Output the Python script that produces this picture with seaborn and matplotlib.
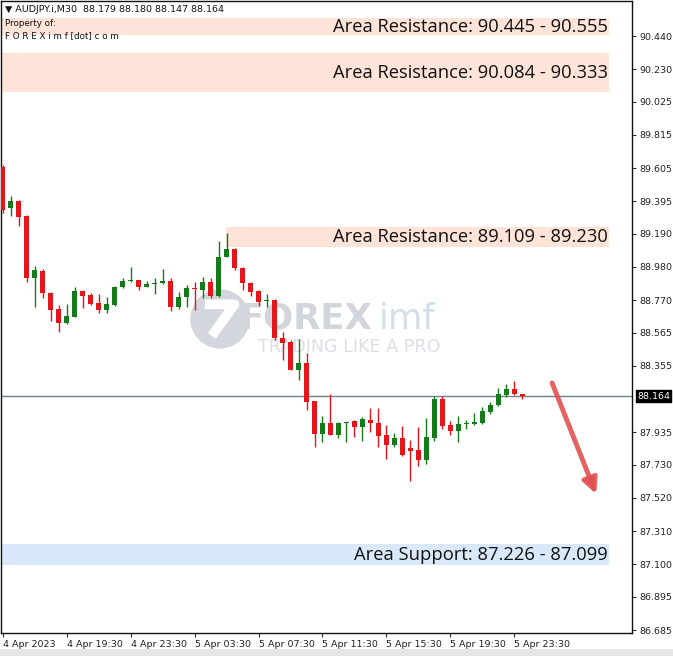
import numpy as np
import pandas as pd
import matplotlib
matplotlib.use('Agg')
import matplotlib.pyplot as plt
import matplotlib.patches as mpatches
import seaborn as sns

# AUDJPY M30 candles, 4 Apr 15:30 -> 6 Apr 00:00
times = pd.date_range('2023-04-04 15:30', periods=66, freq='30min')
opens = [89.614, 89.351, 89.397, 89.302, 88.913, 88.954, 88.817, 88.712, 88.624, 88.666,
         88.828, 88.803, 88.750, 88.708, 88.740, 88.851, 88.889, 88.897, 88.855, 88.872,
         88.877, 88.893, 88.729, 88.788, 88.849, 88.834, 88.887, 88.796, 89.045, 89.094,
         88.976, 88.881, 88.828, 88.763, 88.771, 88.533, 88.504, 88.329, 88.375, 88.133,
         87.924, 87.992, 87.918, 87.994, 88.006, 87.966, 88.013, 87.996, 87.918, 87.855,
         87.897, 87.834, 87.823, 87.760, 87.897, 88.146, 87.981, 87.943, 87.987, 87.986,
         87.992, 88.065, 88.107, 88.171, 88.209, 88.179]
highs = [89.625, 89.430, 89.403, 89.309, 88.985, 88.969, 88.822, 88.737, 88.744, 88.855,
         88.834, 88.813, 88.807, 88.792, 88.860, 88.908, 88.981, 88.899, 88.893, 88.908,
         88.967, 88.912, 88.824, 88.866, 88.887, 88.918, 88.908, 89.146, 89.193, 89.098,
         88.982, 88.887, 88.834, 88.809, 88.776, 88.571, 88.519, 88.525, 88.434, 88.134,
         88.038, 88.177, 88.002, 88.003, 88.013, 88.033, 88.087, 88.087, 87.981, 87.932,
         87.975, 87.886, 87.967, 88.027, 88.164, 88.165, 88.008, 88.038, 88.012, 88.059,
         88.097, 88.124, 88.213, 88.240, 88.259, 88.180]
lows = [89.321, 89.304, 89.241, 88.887, 88.729, 88.782, 88.639, 88.571, 88.620, 88.662,
        88.719, 88.740, 88.687, 88.691, 88.735, 88.845, 88.888, 88.834, 88.851, 88.809,
        88.872, 88.702, 88.714, 88.725, 88.708, 88.782, 88.782, 88.793, 89.041, 88.961,
        88.834, 88.798, 88.733, 88.729, 88.518, 88.392, 88.326, 88.266, 88.076, 87.844,
        87.876, 87.915, 87.900, 87.872, 87.903, 87.882, 87.939, 87.844, 87.764, 87.844,
        87.785, 87.629, 87.722, 87.735, 87.882, 87.954, 87.918, 87.876, 87.954, 87.981,
        87.987, 88.050, 88.101, 88.160, 88.171, 88.147]
closes = [89.340, 89.397, 89.294, 88.909, 88.960, 88.814, 88.708, 88.628, 88.670, 88.828,
          88.796, 88.746, 88.708, 88.746, 88.855, 88.891, 88.897, 88.855, 88.872, 88.880,
          88.893, 88.725, 88.788, 88.849, 88.839, 88.883, 88.796, 89.045, 89.094, 88.972,
          88.881, 88.824, 88.761, 88.771, 88.533, 88.497, 88.329, 88.375, 88.129, 87.925,
          87.992, 87.918, 87.992, 88.002, 87.966, 88.017, 87.992, 87.914, 87.855, 87.897,
          87.792, 87.819, 87.760, 87.907, 88.145, 87.975, 87.945, 87.987, 87.995, 87.998,
          88.069, 88.107, 88.177, 88.209, 88.175, 88.164]

# zones
zone_lows = [90.445, 90.084, 89.109, 87.099]
zone_highs = [90.555, 90.333, 89.230, 87.226]
zone_labels = ['Area Resistance: 90.445 - 90.555', 'Area Resistance: 90.084 - 90.333',
               'Area Resistance: 89.109 - 89.230', 'Area Support: 87.226 - 87.099']
zone_colors = ['#fde3d8', '#fde3d8', '#fde3d8', '#d9e9f9']
zone_starts = [-0.2, -0.2, 27.9, -0.2]
zone_end = 75.8

price_ticks = [90.440, 90.230, 90.025, 89.815, 89.605, 89.395, 89.190, 88.980, 88.770,
               88.565, 88.355, 87.935, 87.730, 87.520, 87.310, 87.100, 86.895, 86.685]
time_labels = ['4 Apr 2023', '4 Apr 19:30', '4 Apr 23:30', '5 Apr 03:30', '5 Apr 07:30',
               '5 Apr 11:30', '5 Apr 15:30', '5 Apr 19:30', '5 Apr 23:30']
time_ticks = pd.to_datetime(['2023-04-04 15:30', '2023-04-04 19:30', '2023-04-04 23:30',
                             '2023-04-05 03:30', '2023-04-05 07:30', '2023-04-05 11:30',
                             '2023-04-05 15:30', '2023-04-05 19:30', '2023-04-05 23:30'])
last_price = 88.164
arrow_from = (68.7, 88.247)
arrow_to = (74.2, 87.545)

df = pd.DataFrame({'time': times, 'open': opens, 'high': highs, 'low': lows, 'close': closes})
df['x'] = np.arange(len(df))
df['up'] = df['close'] >= df['open']

sns.set_style('white')
plt.rcParams['font.family'] = ['DejaVu Sans']

fig = plt.figure(figsize=(6.73, 6.56), dpi=100)
ax = fig.add_axes([1 / 673, 23 / 656, 631 / 673, 632 / 656])

RED = '#e3161b'
GREEN = '#157a1a'

# watermark
ax.add_patch(mpatches.Ellipse((0.347, 0.497), 58 / 631, 58 / 632, transform=ax.transAxes,
                              color='#d3d6dd', zorder=0.5))
ax.plot([0.323, 0.370, 0.334], [0.520, 0.520, 0.470], color='white', lw=7,
        solid_capstyle='butt', transform=ax.transAxes, zorder=0.6)
ax.text(0.378, 0.497, 'FOREX', transform=ax.transAxes, fontsize=25.5, fontweight='bold',
        color='#d2d5dc', ha='left', va='center', zorder=0.5)
ax.text(0.598, 0.497, 'imf', transform=ax.transAxes, fontsize=25.5,
        color='#d3dfeb', ha='left', va='center', zorder=0.5)
ax.text(0.408, 0.453, 'TRADING LIKE A PRO', transform=ax.transAxes, fontsize=12.6,
        color='#dcdfe4', ha='left', va='center', zorder=0.5)

for lo, hi, lab, col, st in zip(zone_lows, zone_highs, zone_labels, zone_colors, zone_starts):
    ax.add_patch(mpatches.Rectangle((st, lo), zone_end - st, hi - lo, color=col, lw=0, zorder=0.2))
    ax.text(zone_end - 0.1, (lo + hi) / 2, lab, ha='right', va='center', fontsize=13.2,
            family='Open Sans', color='#111111', zorder=5)

# candles
for up, col in [(True, GREEN), (False, RED)]:
    d = df[df['up'] == up]
    ax.vlines(d['x'], d['low'], d['high'], color=col, lw=1, zorder=2)
    body = (d['close'] - d['open']).abs().clip(lower=0.006)
    ax.bar(d['x'], body, bottom=d[['open', 'close']].min(axis=1), width=0.62,
           color=col, lw=0, zorder=3)

ax.axhline(last_price, color='#73808c', lw=1, zorder=1.5)

ax.annotate('', xy=arrow_to, xytext=arrow_from,
            arrowprops=dict(arrowstyle='-|>', lw=3.5, color='#e05252', alpha=0.9,
                            mutation_scale=22, shrinkA=0, shrinkB=0), zorder=6)

ax.set_xlim(-0.19, 78.69)
ax.set_ylim(86.6664, 90.6613)

ax.yaxis.tick_right()
ax.set_yticks(price_ticks)
ax.set_yticklabels([f'{v:.3f}' for v in price_ticks])
tick_x = [int(np.where(df['time'] == t)[0][0]) for t in time_ticks]
ax.set_xticks(tick_x)
ax.set_xticklabels(time_labels, ha='left')
ax.tick_params(axis='both', which='both', length=3, width=0.8, color='#333333',
               labelsize=6.8, labelcolor='#222222', pad=1.5)
ax.tick_params(axis='y', right=True, left=False, pad=2)
ax.tick_params(axis='x', bottom=True, pad=2)
for sp in ax.spines.values():
    sp.set_color('#111111')
    sp.set_linewidth(1)

ax.text(1.008, last_price, f'{last_price:.3f}', transform=ax.get_yaxis_transform(),
        ha='left', va='center', fontsize=6.8, color='white',
        bbox=dict(boxstyle='square,pad=0.15', fc='black', ec='black'), clip_on=False)

# header
fig.text(5 / 673, 1 - 10 / 656, '▼ AUDJPY.i,M30  88.179 88.180 88.147 88.164', fontsize=6.8,
         va='center', ha='left', color='#111111')
fig.text(5 / 673, 1 - 23 / 656, 'Property of:', fontsize=6.3, va='center', ha='left', color='#111111')
fig.text(5 / 673, 1 - 36 / 656, 'F O R E X i m f [dot] c o m', fontsize=6.3, va='center',
         ha='left', color='#111111')

fig.patches.append(mpatches.Rectangle((0, 0), 1, 7 / 656, transform=fig.transFigure,
                                      color='#e6e6e6', lw=0))

fig.savefig('out.png', dpi=100)
